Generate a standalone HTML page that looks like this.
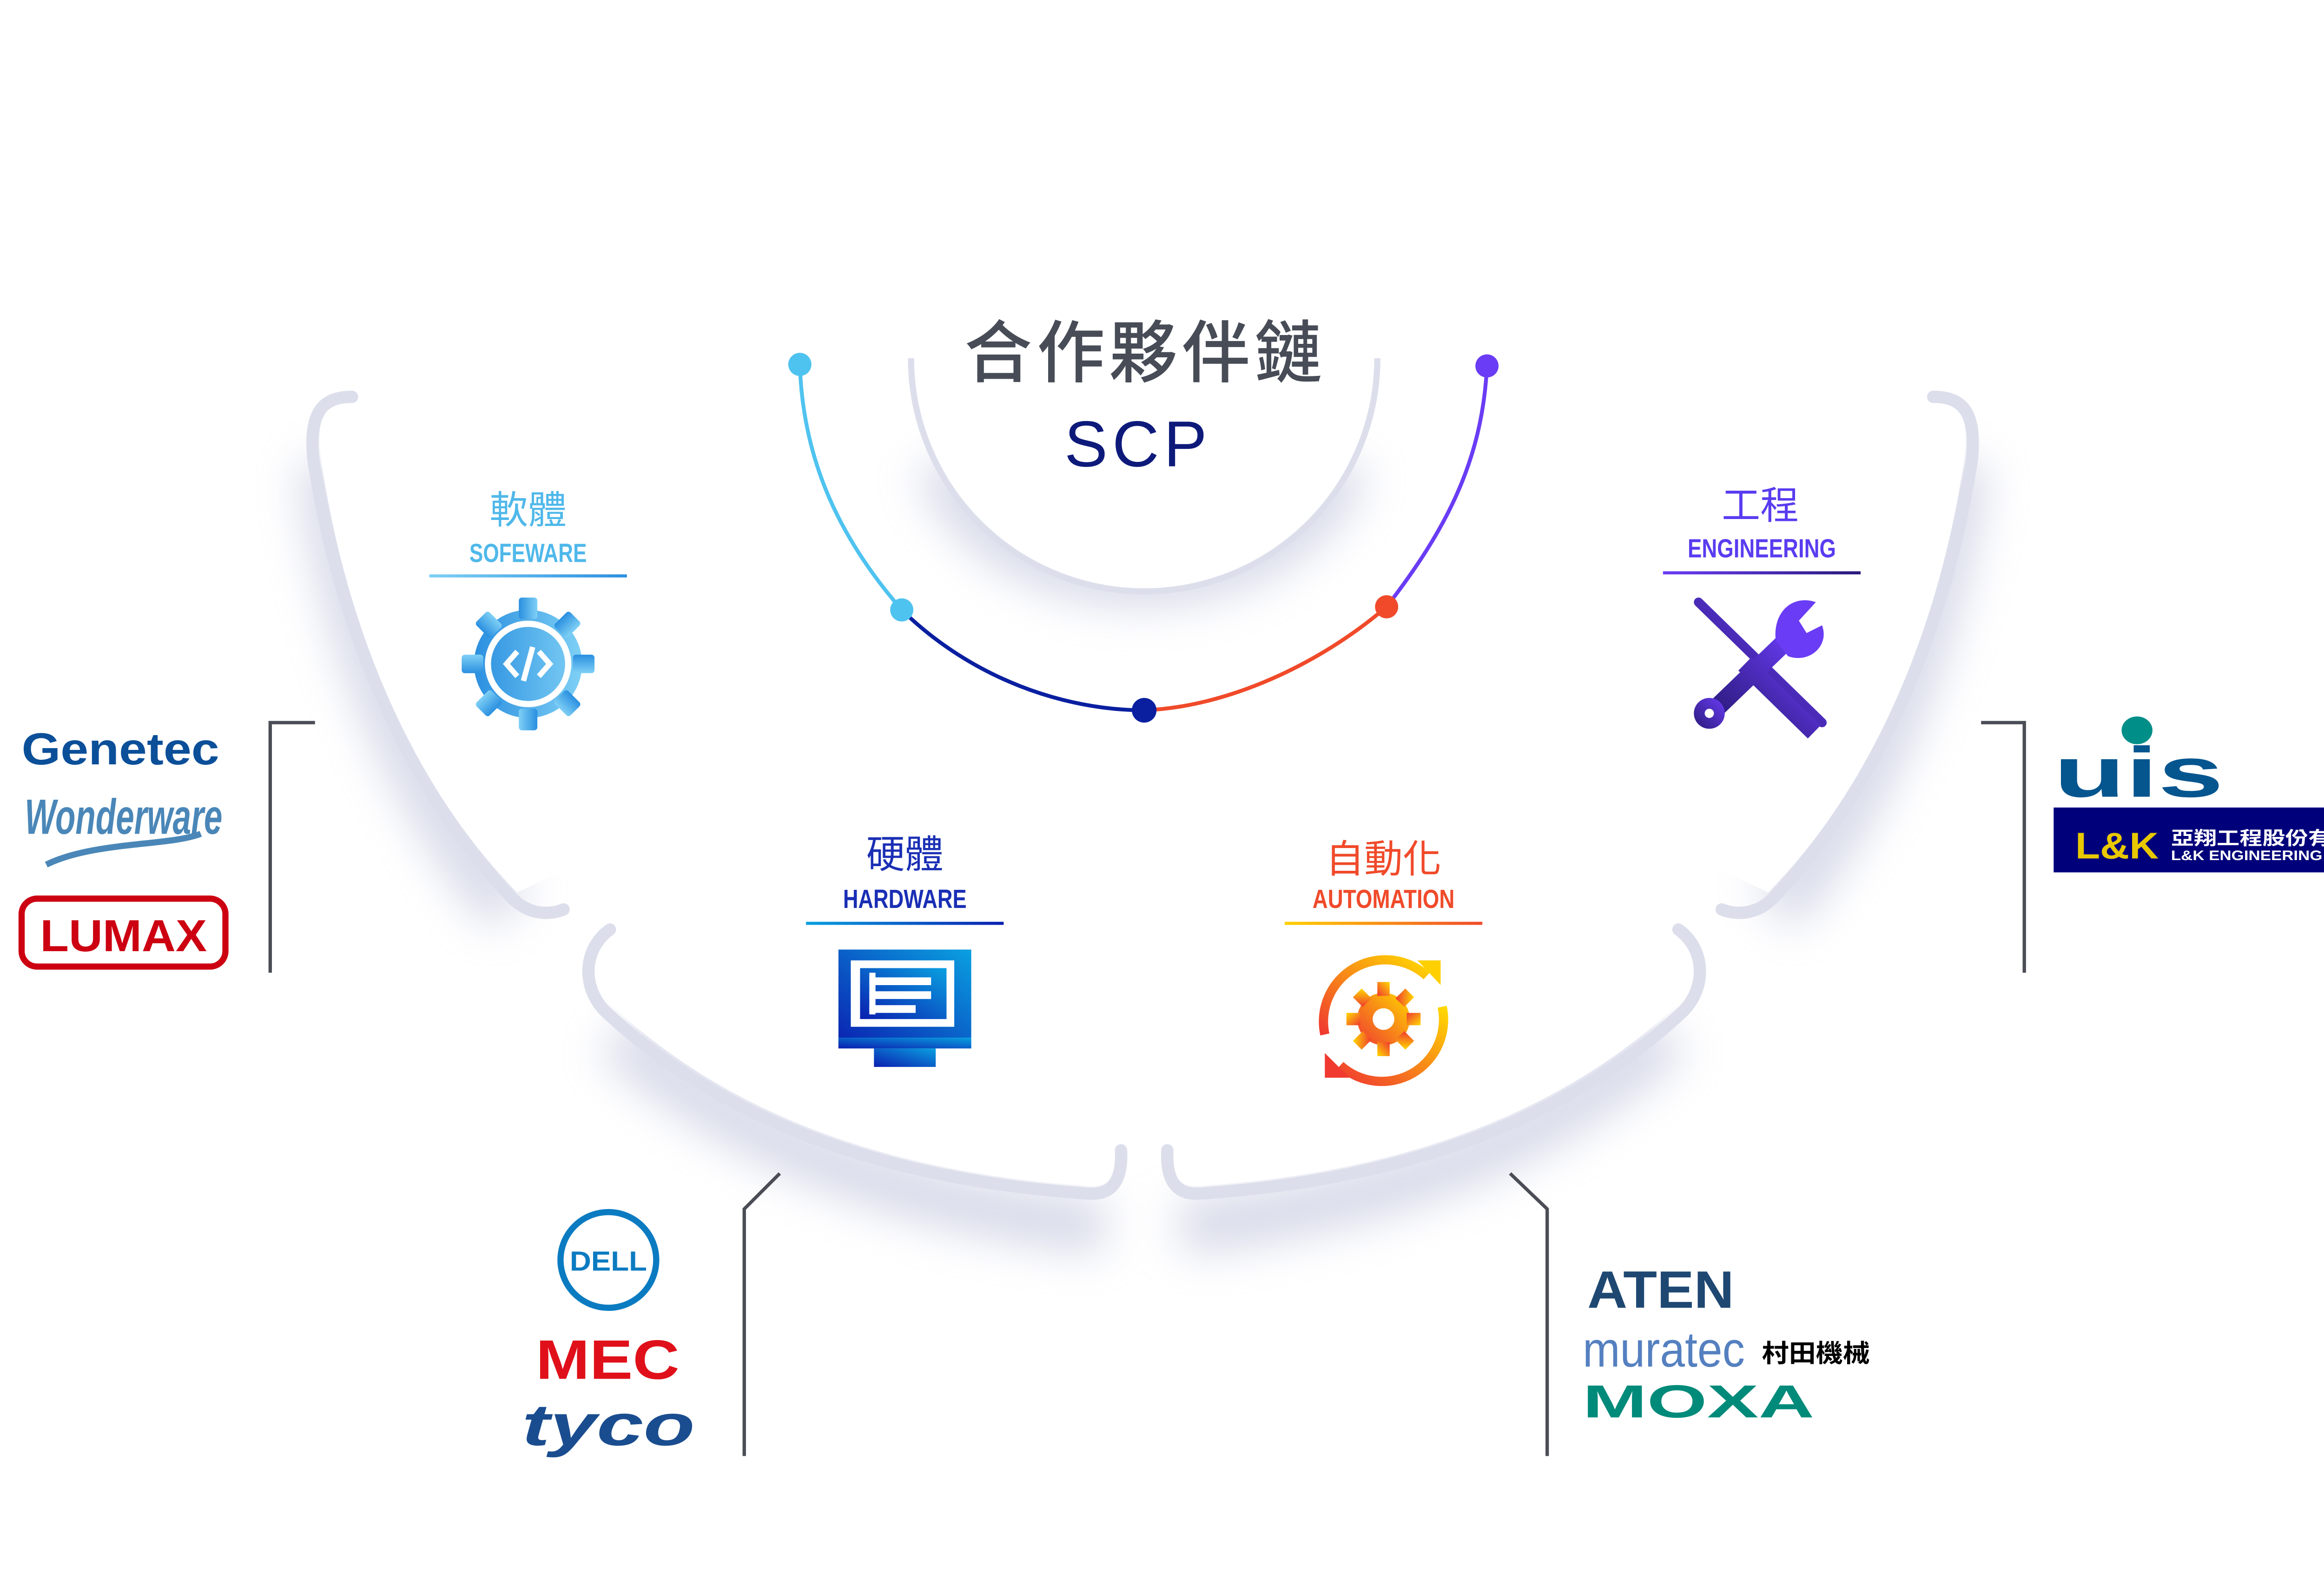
<!DOCTYPE html>
<html><head><meta charset="utf-8">
<style>
html,body{margin:0;padding:0;background:#fff;width:5209px;height:3396px;overflow:hidden;}
svg{display:block;position:absolute;left:0;top:0;}
text{font-family:"Liberation Sans","Noto Sans CJK TC",sans-serif;}
.cn{font-family:"Noto Sans CJK TC","WenQuanYi Zen Hei",sans-serif;}
.nar{font-family:"Liberation Sans Narrow","Liberation Sans",sans-serif;font-weight:bold;}
</style></head>
<body>
<svg width="5209" height="3396" viewBox="0 0 1568 1022" preserveAspectRatio="none" xmlns="http://www.w3.org/2000/svg">
<defs>
<filter id="bl" x="-50%" y="-50%" width="200%" height="200%"><feGaussianBlur stdDeviation="14"/></filter>
<linearGradient id="gSoft" x1="0" x2="1"><stop offset="0" stop-color="#2a8fe0"/><stop offset="1" stop-color="#7fd0f5"/></linearGradient>
<linearGradient id="gHard" x1="0" y1="1" x2="1" y2="0"><stop offset="0" stop-color="#0a1fb0"/><stop offset="1" stop-color="#0aa0e0"/></linearGradient>
<linearGradient id="gAuto" x1="0" y1="1" x2="1" y2="0"><stop offset="0" stop-color="#f03a30"/><stop offset="1" stop-color="#ffd800"/></linearGradient>
<linearGradient id="gAutoL" x1="0" x2="1"><stop offset="0" stop-color="#ffd000"/><stop offset="1" stop-color="#f04a2a"/></linearGradient>
<linearGradient id="gEng" x1="0" y1="1" x2="1" y2="0"><stop offset="0" stop-color="#2a1a7a"/><stop offset="1" stop-color="#6a3cf5"/></linearGradient>
<linearGradient id="gHardL" x1="0" x2="1"><stop offset="0" stop-color="#0aa0e0"/><stop offset="1" stop-color="#0a1fb0"/></linearGradient>
<linearGradient id="gSoftL" x1="0" x2="1"><stop offset="0" stop-color="#7fd0f5"/><stop offset="1" stop-color="#2a8fe0"/></linearGradient>
<linearGradient id="gEngL" x1="0" x2="1"><stop offset="0" stop-color="#6a3cf5"/><stop offset="1" stop-color="#2a1a7a"/></linearGradient>
</defs>
<rect width="1568" height="1022" fill="#fff"/>

<g opacity="0.55" filter="url(#bl)" fill="none" stroke="#b4b9d6" stroke-width="34">
<path d="M210 300 C225 420 270 520 330 590"/>
<path d="M1270 300 C1255 420 1210 520 1150 590"/>
<path d="M400 670 C480 740 580 780 715 795"/>
<path d="M1080 670 C1000 740 900 780 765 795"/>
<path d="M610 300 C650 400 830 400 870 300"/>
</g>

<g fill="none" stroke="#dcdfeb" stroke-width="8" stroke-linecap="round">
<path d="M228 257 C208 257 200 268 203 298 C222 420 272 520 332 582 C342 592 355 593 365 589"/>
<path d="M1252 257 C1272 257 1280 268 1277 298 C1258 420 1208 520 1148 582 C1138 592 1125 593 1115 589"/>
<path d="M395 602 C377 615 377 640 392 655 C472 730 582 765 705 773 C720 774 727 765 726 745"/>
<path d="M1087 602 C1105 615 1105 640 1090 655 C1010 730 900 765 777 773 C762 774 755 765 756 745"/>
</g>
<path d="M232 262 C212 262 205 272 208 298 C226 420 275 518 335 578 L560 470 L560 262 Z" fill="#fff"/>
<path d="M1248 262 C1268 262 1275 272 1272 298 C1254 420 1205 518 1145 578 L920 470 L920 262 Z" fill="#fff"/>
<path d="M398 606 C383 618 383 638 396 651 C475 725 582 760 705 768 C717 769 722 762 721 745 L721 470 L520 470 Z" fill="#fff"/>
<path d="M1084 606 C1099 618 1099 638 1086 651 C1007 725 900 760 777 768 C765 769 760 762 761 745 L761 470 L960 470 Z" fill="#fff"/>

<path d="M590 232 A151 151 0 0 0 892 232" fill="#fff" stroke="#dcdfeb" stroke-width="4"/>

<path d="M518 236 C520 300 545 350 584 395" fill="none" stroke="#4fc3f0" stroke-width="2.5"/>
<path d="M584 395 C630 440 690 460 741 460" fill="none" stroke="#0a1fa0" stroke-width="2.5"/>
<path d="M741 460 C795 458 855 430 898 393" fill="none" stroke="#f04a2a" stroke-width="2.5"/>
<path d="M898 393 C935 345 960 300 963 237" fill="none" stroke="#6a3cf5" stroke-width="2.5"/>
<circle cx="518" cy="236" r="7.5" fill="#4fc3f0"/>
<circle cx="584" cy="395" r="7.5" fill="#4fc3f0"/>
<circle cx="741" cy="460" r="8" fill="#0a1fa0"/>
<circle cx="898" cy="393" r="7.5" fill="#f04a2a"/>
<circle cx="963" cy="237" r="7.5" fill="#6a3cf5"/>

<text class="cn" x="742" y="244" font-size="44" fill="#474c57" text-anchor="middle" letter-spacing="3" font-weight="500">合作夥伴鏈</text>
<text x="737" y="302" font-size="42" fill="#0d1a7a" text-anchor="middle" letter-spacing="3">SCP</text>

<text class="cn" x="342" y="339" font-size="25" fill="#4fb8ea" text-anchor="middle">軟體</text>
<text class="nar" x="342" y="364" font-size="17" fill="#4fb8ea" text-anchor="middle" textLength="76" lengthAdjust="spacingAndGlyphs">SOFEWARE</text>
<rect x="278" y="372" width="128" height="2" fill="url(#gSoftL)"/>

<text class="cn" x="1140" y="336" font-size="25" fill="#5a3cf0" text-anchor="middle">工程</text>
<text class="nar" x="1141" y="361" font-size="17" fill="#5a3cf0" text-anchor="middle" textLength="96" lengthAdjust="spacingAndGlyphs">ENGINEERING</text>
<rect x="1077" y="370" width="128" height="2" fill="url(#gEngL)"/>

<text class="cn" x="586" y="562" font-size="25" fill="#1a2fb5" text-anchor="middle">硬體</text>
<text class="nar" x="586" y="588" font-size="17" fill="#1a2fb5" text-anchor="middle" textLength="80" lengthAdjust="spacingAndGlyphs">HARDWARE</text>
<rect x="522" y="597" width="128" height="2" fill="url(#gHardL)"/>

<text class="cn" x="896" y="565" font-size="25" fill="#f04a2a" text-anchor="middle">自動化</text>
<text class="nar" x="896" y="588" font-size="17" fill="#f04a2a" text-anchor="middle" textLength="92" lengthAdjust="spacingAndGlyphs">AUTOMATION</text>
<rect x="832" y="597" width="128" height="2" fill="url(#gAutoL)"/>

<g transform="translate(342,430)">
<g fill="url(#gSoft)">
<circle r="35"/>
<g id="t"><rect x="-6" y="-43" width="12" height="14" rx="2"/></g>
<use href="#t" transform="rotate(45)"/><use href="#t" transform="rotate(90)"/><use href="#t" transform="rotate(135)"/>
<use href="#t" transform="rotate(180)"/><use href="#t" transform="rotate(225)"/><use href="#t" transform="rotate(270)"/><use href="#t" transform="rotate(315)"/>
</g>
<circle r="26" fill="none" stroke="#fff" stroke-width="4"/>
<path d="M-7 -8 L-14 0 L-7 8 M7 -8 L14 0 L7 8 M3 -11 L-3 11" fill="none" stroke="#fff" stroke-width="3.5"/>
</g>

<g>
<rect x="543" y="615" width="86" height="64" fill="url(#gHard)"/>
<rect x="551" y="622" width="67" height="43" fill="#fff"/>
<rect x="557" y="627" width="56" height="33" fill="url(#gHard)"/>
<rect x="563" y="633" width="40" height="5" fill="#fff"/>
<rect x="563" y="642" width="40" height="5" fill="#fff"/>
<rect x="563" y="651" width="30" height="5" fill="#fff"/>
<rect x="563" y="630" width="4" height="27" fill="#fff"/>
<rect x="543" y="672" width="86" height="7" fill="url(#gHard)"/>
<rect x="566" y="679" width="40" height="12" fill="url(#gHard)"/>
</g>

<g transform="translate(896,660)">
<path d="M-38 10 A40 40 0 0 1 28 -28" fill="none" stroke="url(#gAuto)" stroke-width="6"/>
<path d="M38 -8 A40 40 0 0 1 -28 30" fill="none" stroke="url(#gAuto)" stroke-width="6"/>
<path d="M22 -38 L37 -38 L37 -22 Z" fill="#ffd000"/>
<path d="M-22 38 L-38 38 L-38 22 Z" fill="#f03a30"/>
<g fill="url(#gAuto)">
<circle r="17"/>
<g id="a"><rect x="-4" y="-24" width="8" height="9"/></g>
<use href="#a" transform="rotate(45)"/><use href="#a" transform="rotate(90)"/><use href="#a" transform="rotate(135)"/>
<use href="#a" transform="rotate(180)"/><use href="#a" transform="rotate(225)"/><use href="#a" transform="rotate(270)"/><use href="#a" transform="rotate(315)"/>
</g>
<circle r="7" fill="#fff"/>
</g>

<g>
<path d="M1100 390 L1180 468" stroke="url(#gEng)" stroke-width="6" stroke-linecap="round"/>
<path d="M1130 430 L1175 474" stroke="url(#gEng)" stroke-width="12"/>
<path d="M1108 462 L1162 410" stroke="url(#gEng)" stroke-width="12" stroke-linecap="round"/>
<circle cx="1107" cy="462" r="10" fill="url(#gEng)"/>
<circle cx="1107" cy="462" r="3" fill="#fff"/>
<path d="M1150 415 C1148 395 1162 385 1176 390 L1165 402 L1170 410 L1180 405 C1185 418 1172 430 1158 425 Z" fill="#6a3cf5"/>
</g>

<g fill="none" stroke="#4a4d55" stroke-width="2.2">
<path d="M204 468 L175 468 L175 630"/>
<path d="M1283 468 L1311 468 L1311 630"/>
<path d="M505 760 L482 783 L482 943"/>
<path d="M978 760 L1002 783 L1002 943"/>
</g>

<text x="14" y="495" font-size="29" font-weight="bold" fill="#0b4f99" textLength="128" lengthAdjust="spacingAndGlyphs">Genetec</text>
<text x="16" y="540" font-size="32" font-weight="bold" font-style="italic" fill="#4a87b8" font-family="Liberation Serif,serif" textLength="128" lengthAdjust="spacingAndGlyphs">Wonderware</text>
<path d="M30 560 C60 545 110 548 130 540" fill="none" stroke="#4a87b8" stroke-width="4"/>
<rect x="14" y="582" width="132" height="44" rx="10" fill="#fff" stroke="#cc0011" stroke-width="4"/>
<text x="80" y="616" font-size="29" font-weight="bold" fill="#cc0011" text-anchor="middle" textLength="108" lengthAdjust="spacingAndGlyphs">LUMAX</text>

<ellipse cx="1384" cy="473" rx="10" ry="9" fill="#008e88"/>
<text x="1330" y="516" font-size="46" font-weight="bold" fill="#05558f" font-family="Liberation Serif,serif" textLength="110" lengthAdjust="spacingAndGlyphs">uis</text>
<rect x="1330" y="523" width="233" height="42" fill="#00007a"/>
<text x="1344" y="556" font-size="24" font-weight="bold" fill="#e8c800" font-family="Liberation Serif,serif" textLength="54" lengthAdjust="spacingAndGlyphs">L&amp;K</text>
<text class="cn" x="1406" y="547" font-size="12" fill="#fff" font-weight="bold" textLength="148" lengthAdjust="spacingAndGlyphs">亞翔工程股份有限公司</text>
<text x="1406" y="557" font-size="9" fill="#fff" font-weight="bold" font-family="Liberation Serif,serif" textLength="148" lengthAdjust="spacingAndGlyphs">L&amp;K ENGINEERING CO., LTD.</text>

<circle cx="394" cy="816" r="31" fill="#fff" stroke="#0b7bc1" stroke-width="4"/>
<text x="394" y="823" font-size="18" font-weight="bold" fill="#0b7bc1" text-anchor="middle" textLength="50" lengthAdjust="spacingAndGlyphs">DELL</text>
<text x="347" y="893" font-size="36" font-weight="bold" fill="#e0101a" textLength="93" lengthAdjust="spacingAndGlyphs">MEC</text>
<text x="338" y="936" font-size="38" font-weight="bold" font-style="italic" fill="#1a4d8f" textLength="112" lengthAdjust="spacingAndGlyphs">tyco</text>

<text x="1028" y="847" font-size="34" font-weight="bold" fill="#1e4872" textLength="95" lengthAdjust="spacingAndGlyphs">ATEN</text>
<text x="1025" y="885" font-size="32" fill="#5580c0" textLength="105" lengthAdjust="spacingAndGlyphs">muratec</text>
<text class="cn" x="1141" y="882" font-size="16" font-weight="bold" fill="#000" textLength="70" lengthAdjust="spacingAndGlyphs">村田機械</text>
<text x="1025" y="918" font-size="30" font-weight="bold" fill="#008a7a" textLength="150" lengthAdjust="spacingAndGlyphs">MOXA</text>
</svg>
</body></html>
